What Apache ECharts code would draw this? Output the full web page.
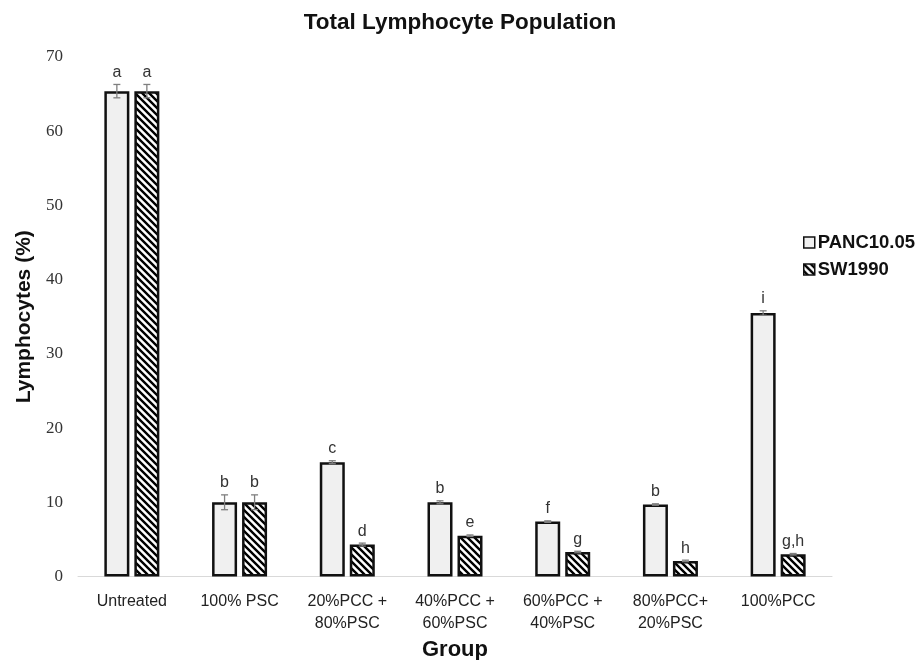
<!DOCTYPE html>
<html>
<head>
<meta charset="utf-8">
<script src="https://cdn.jsdelivr.net/npm/echarts@6/dist/echarts.min.js"></script>
<style>
  html, body { margin: 0; padding: 0; background: #fff; }
  #chart { width: 920px; height: 660px; }
</style>
</head>
<body>
<div id="chart"></div>
<script>
const categories = ['Untreated', '100% PSC', '20%PCC +\n80%PSC', '40%PCC +\n60%PSC', '60%PCC +\n40%PSC', '80%PCC+\n20%PSC', '100%PCC']
const panc = [65.4, 10.0, 15.4, 10.0, 7.4, 9.7, 35.5]
const sw = [65.4, 10.0, 4.3, 5.5, 3.3, 2.1, 3.0]
const pancErr = [0.9, 1.0, 0.2, 0.2, 0.1, 0.1, 0.3]
const swErr = [0.9, 1.0, 0.2, 0.1, 0.1, 0.1, 0.1]
const pancLetters = ['a', 'b', 'c', 'b', 'f', 'b', 'i']
const swLetters = ['a', 'b', 'd', 'e', 'g', 'h', 'g,h']
const yTicks = [0, 10, 20, 30, 40, 50, 60, 70]

// hatch pattern for SW1990
const T = 7
const tile = document.createElement('canvas')
tile.width = T
tile.height = T
const ctx = tile.getContext('2d')
ctx.fillStyle = '#fff'
ctx.fillRect(0, 0, T, T)
ctx.strokeStyle = '#000'
ctx.lineWidth = 2.4
ctx.beginPath()
ctx.moveTo(-1, -1); ctx.lineTo(T + 1, T + 1)
ctx.moveTo(-1, T - 1); ctx.lineTo(1, T + 1)
ctx.moveTo(T - 1, -1); ctx.lineTo(T + 1, 1)
ctx.stroke()

const BAR_W = 25
const OFFSET = 15

function errSeries(values, errs, letters, side) {
  return {
    type: 'custom',
    silent: true,
    z: 5,
    data: values.map((v, i) => [i, v, errs[i]]),
    renderItem: (params, api) => {
      const i = api.value(0)
      const v = api.value(1)
      const e = api.value(2)
      const top = api.coord([i, v + e])
      const bot = api.coord([i, v - e])
      const x = top[0] + side * OFFSET
      const cap = 3.5
      const st = { stroke: '#7f7f7f', lineWidth: 1.3 }
      return {
        type: 'group',
        children: [
          { type: 'line', shape: { x1: x, y1: top[1], x2: x, y2: bot[1] }, style: st },
          { type: 'line', shape: { x1: x - cap, y1: top[1], x2: x + cap, y2: top[1] }, style: st },
          { type: 'line', shape: { x1: x - cap, y1: bot[1], x2: x + cap, y2: bot[1] }, style: st },
          {
            type: 'text',
            style: {
              x: x, y: top[1] - 4,
              text: letters[i],
              align: 'center', verticalAlign: 'bottom',
              font: '16px "Liberation Sans", Arial, sans-serif',
              fill: '#333'
            }
          }
        ]
      }
    }
  }
}

const chart = echarts.init(document.getElementById('chart'))
chart.setOption({
  animation: false,
  backgroundColor: '#fff',
  title: {
    text: 'Total Lymphocyte Population',
    left: 455,
    textAlign: 'center',
    top: 6,
    textStyle: { fontFamily: 'Liberation Sans, Arial', fontSize: 22.5, fontWeight: 'bold', color: '#111' }
  },
  legend: {
    orient: 'vertical',
    left: 803,
    top: 233,
    padding: 0,
    itemWidth: 11,
    itemHeight: 11,
    itemGap: 8,
    icon: 'rect',
    data: ['PANC10.05', 'SW1990'],
    itemStyle: { borderColor: '#111', borderWidth: 1.5 },
    textStyle: { fontFamily: 'Liberation Sans, Arial', fontSize: 18.5, fontWeight: 'bold', color: '#111', padding: [0, 0, 0, -2] }
  },
  grid: { left: 78, right: 88, top: 57, bottom: 83.5, outerBoundsMode: 'none' },
  xAxis: {
    type: 'category',
    data: categories,
    name: 'Group',
    nameLocation: 'middle',
    nameGap: 59,
    nameTextStyle: { fontFamily: 'Liberation Sans, Arial', fontSize: 22, fontWeight: 'bold', color: '#111' },
    axisLine: { lineStyle: { color: '#d9d9d9', width: 1 } },
    axisTick: { show: false },
    axisLabel: {
      interval: 0,
      margin: 14,
      lineHeight: 22,
      fontFamily: 'Liberation Sans, Arial',
      fontSize: 16,
      color: '#222'
    }
  },
  yAxis: {
    type: 'value',
    min: yTicks[0],
    max: yTicks[yTicks.length - 1],
    interval: 10,
    name: 'Lymphocytes (%)',
    nameLocation: 'middle',
    nameGap: 43,
    nameTextStyle: { fontFamily: 'Liberation Sans, Arial', fontSize: 21, fontWeight: 'bold', color: '#111' },
    axisLine: { show: false },
    axisTick: { show: false },
    splitLine: { show: false },
    axisLabel: {
      margin: 15,
      fontFamily: 'Liberation Serif, Times New Roman, serif',
      fontSize: 17,
      color: '#333'
    }
  },
  series: [
    {
      name: 'PANC10.05',
      type: 'bar',
      data: panc,
      barWidth: BAR_W,
      barGap: '20%',
      itemStyle: { color: '#f0f0f0', borderColor: '#111', borderWidth: 2.5 }
    },
    {
      name: 'SW1990',
      type: 'bar',
      data: sw,
      barWidth: BAR_W,
      barGap: '20%',
      itemStyle: { color: { image: tile, repeat: 'repeat' }, borderColor: '#111', borderWidth: 2.5 }
    },
    errSeries(panc, pancErr, pancLetters, -1),
    errSeries(sw, swErr, swLetters, 1)
  ]
})
</script>
</body>
</html>
